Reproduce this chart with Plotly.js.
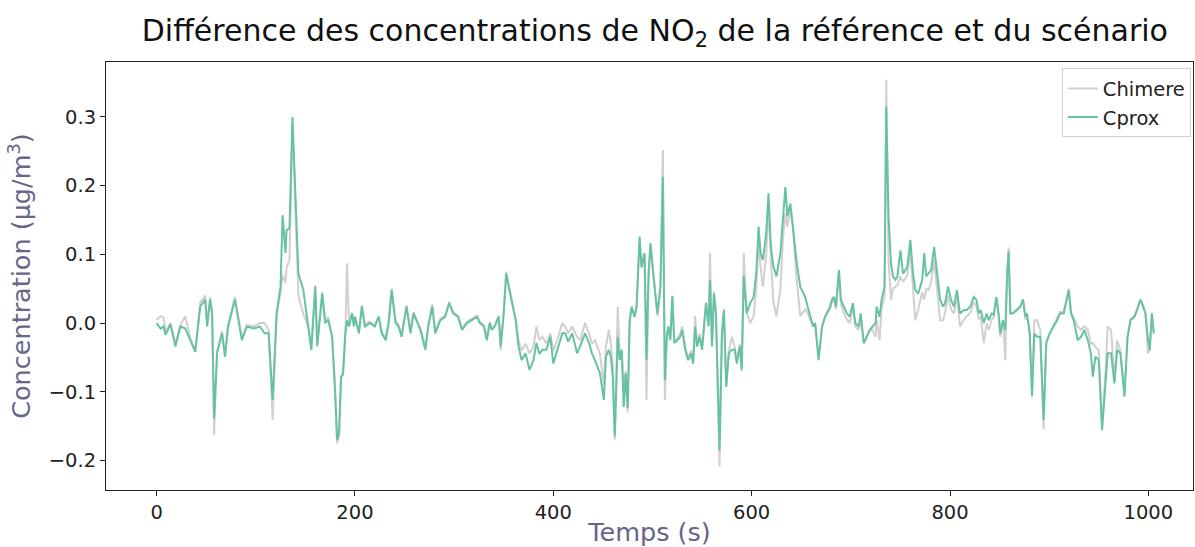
<!DOCTYPE html>
<html>
<head>
<meta charset="utf-8">
<script src="https://cdn.plot.ly/plotly-3.0.1.min.js"></script>
<style>html,body{margin:0;padding:0;background:#fff;}#chart{width:1195px;height:547px;}</style>
</head>
<body>
<div id="chart"></div>
<script>
// Temps (s)
const temps = [0,4,7,9,14,19,24,29,34,39,44,49,51,54,56,58,61,66,69,72,79,86,91,98,104,109,113,117,121,125,127,130,131,134,137,140,143,148,153,156,160,
162,167,170,173,177,180,182,184,186,188,190,192,194,197,199,200,204,207,210,215,220,224,227,231,234,237,241,244,247,252,256,259,262,266,271,274,278,281,286,291,295,299,304,308,313,318,323,326,330,333,336,
338,341,345,347,350,352.5,355,358,362,365,368,372,376,380,383,386,389,393,397,400,405,409,412,415,419,424,427,432,436,439,442,447,451,453,456,458,460,462,465,467,469,471,473,475,477,479,482,484,487,489,492,494,496,498,501,505,508,
510.5,512.5,514.5,516,518,520,522,525,528,530,533,536,539,541,543,545,547.5,550,551.5,554,556.5,558,560,562,564,565.6,567.6,570,572,574.4,577,580,583,585,588,590,592,595,598.6,602,604.6,607,609,611.4,614.7,617,619.4,622,625,629,631.5,634,636,639,641.6,645,649,654,656.4,659,662,664,667.5,671,674,679,
681,683,685,688,690,693,696,699,702,704.5,708,710,713,716,719,722,725,726,729,731,734,735.7,738,740.5,742.5,745,747,750,752.6,755,757,760,762.7,765,768,772,774,776,778.5,781,784,787,790,793,795,798,801,804,807,810,814,817,820.5,824,826.6,829,831,834,837,839,842,844,846.7,849,
850.7,853.4,855.8,857.5,859.1,860.8,863.5,867.5,871,873.6,876,877.6,880.3,882.7,885,887.7,891,894.4,897,900.5,904.5,908,911,914.6,917,919.7,922,924.7,928.8,932,935.5,939,942,944,946.6,950,953.3,956.7,959,962.4,965.8,968.5,971.8,975.9,979,982,986,988.6,992,994.7,997,999.4,1001.4,1003.5,1005.5];

// Cprox
const cprox = [0.0,-0.008,-0.005,-0.017,-0.002,-0.034,-0.005,-0.008,-0.025,-0.042,0.024,0.034,-0.005,0.034,0.014,-0.139,-0.044,-0.015,-0.049,-0.005,0.034,-0.025,-0.005,-0.008,-0.005,-0.015,-0.015,-0.112,0.014,0.053,0.157,0.102,0.135,0.138,0.300,0.189,0.072,0.048,-0.005,-0.039,0.053,
-0.034,0.043,0.0,0.005,-0.020,-0.102,-0.170,-0.160,-0.078,-0.075,-0.020,0.004,-0.005,0.014,-0.005,0.009,-0.015,0.024,-0.005,0.0,-0.005,0.009,-0.015,-0.025,0.0,0.048,0.0,-0.005,-0.020,0.024,-0.015,0.014,0.004,-0.010,-0.039,-0.005,0.024,-0.015,0.004,0.009,0.029,0.014,0.009,-0.010,0.0,0.004,0.009,0.0,-0.005,-0.025,0.0,
-0.010,-0.005,0.009,-0.034,0.014,0.072,0.053,0.034,0.004,-0.034,-0.054,-0.044,-0.068,-0.054,-0.029,-0.045,-0.039,-0.039,-0.020,-0.059,-0.034,-0.015,-0.015,-0.027,-0.015,-0.044,-0.034,-0.015,-0.029,-0.044,-0.054,-0.073,-0.112,-0.049,-0.039,-0.049,-0.078,-0.165,-0.020,-0.054,-0.039,-0.122,-0.073,-0.124,0.004,0.024,0.009,0.024,0.126,0.082,0.102,-0.054,0.072,0.116,0.068,0.014,0.053,
0.213,-0.083,-0.020,-0.005,-0.025,0.039,-0.029,-0.025,-0.020,-0.010,-0.039,-0.054,-0.044,-0.059,-0.005,-0.034,-0.020,-0.039,-0.015,0.029,-0.005,0.063,-0.034,0.043,0.014,-0.068,-0.185,-0.015,0.019,-0.093,-0.044,-0.039,-0.039,-0.059,-0.034,-0.068,0.068,0.014,0.029,0.038,0.072,0.140,0.102,0.092,0.131,0.189,0.111,0.082,0.068,0.102,0.150,0.198,0.155,0.174,0.140,0.092,0.053,0.038,0.024,0.009,-0.005,0.0,-0.054,-0.005,0.009,0.024,
0.034,0.038,0.024,0.077,0.034,0.024,0.014,0.009,0.029,0.0,-0.005,0.014,-0.029,-0.020,-0.010,-0.005,0.0,0.024,0.009,0.034,0.053,0.315,0.155,0.087,0.068,0.063,0.068,0.106,0.072,0.077,0.082,0.121,0.072,0.048,0.043,0.063,0.102,0.068,0.072,0.077,0.111,0.068,0.034,0.024,0.029,0.053,0.034,0.024,0.048,0.014,0.019,0.019,0.024,0.038,0.034,0.014,0.019,0.0,0.014,0.004,0.014,0.012,0.038,0.014,
-0.015,0.004,-0.010,0.068,0.104,0.014,0.014,0.019,0.024,0.034,0.009,0.014,-0.015,-0.107,-0.015,-0.020,-0.020,-0.141,-0.029,-0.015,-0.005,0.004,0.014,0.014,0.029,0.048,0.014,0.004,-0.025,-0.020,-0.010,-0.025,-0.044,-0.078,-0.049,-0.054,-0.156,-0.083,-0.044,-0.044,-0.088,-0.039,-0.044,-0.107,-0.020,0.004,0.009,0.019,0.034,0.024,0.014,-0.020,-0.039,0.014,-0.015];

// Chimere
const chimere = [0.005,0.010,0.008,-0.012,0.0,-0.030,-0.003,0.010,-0.022,-0.040,0.030,0.040,0.0,0.038,0.015,-0.163,-0.040,-0.012,-0.049,-0.005,0.038,-0.022,-0.003,-0.005,0.0,0.0,-0.010,-0.141,0.010,0.045,0.070,0.058,0.080,0.092,0.290,0.170,0.040,0.013,-0.005,-0.035,0.055,
-0.030,0.045,0.005,0.009,-0.020,-0.090,-0.175,-0.165,-0.080,-0.070,-0.030,0.087,0.0,0.015,-0.003,0.010,-0.012,0.026,-0.002,0.002,-0.003,0.010,-0.013,-0.022,0.002,0.050,0.003,-0.002,-0.018,0.026,-0.012,0.016,0.006,-0.008,-0.035,-0.002,0.027,-0.012,0.006,0.011,0.031,0.016,0.011,-0.008,0.002,0.006,0.011,0.002,-0.003,-0.020,0.002,
-0.008,-0.003,0.011,-0.039,0.016,0.075,0.056,0.036,0.008,-0.025,-0.040,-0.030,-0.044,-0.035,-0.005,-0.025,-0.020,-0.030,-0.015,-0.040,-0.020,0.0,-0.005,-0.015,-0.005,-0.020,-0.025,0.0,-0.015,-0.030,-0.025,-0.045,-0.090,-0.035,-0.010,-0.030,-0.060,-0.170,0.024,-0.045,-0.040,-0.100,-0.070,-0.130,0.0,0.020,0.010,0.025,0.120,0.080,0.100,-0.112,0.060,0.116,0.068,0.010,0.050,
0.252,-0.112,-0.020,-0.005,-0.022,0.040,-0.027,-0.022,-0.015,-0.005,-0.035,-0.050,-0.040,-0.055,0.010,-0.030,-0.015,-0.035,-0.010,0.030,0.0,0.102,-0.030,0.045,0.015,-0.070,-0.209,-0.020,0.020,-0.090,-0.040,-0.020,-0.035,-0.055,-0.030,-0.070,0.102,0.015,0.0,0.010,0.050,0.120,0.080,0.053,0.100,0.170,0.090,0.030,0.010,0.050,0.120,0.160,0.140,0.165,0.140,0.070,0.010,0.020,0.015,0.005,-0.005,0.0,-0.050,-0.005,0.009,0.020,
0.030,0.035,0.020,0.072,0.028,0.014,0.005,0.0,0.024,-0.005,-0.010,0.010,-0.030,-0.020,-0.012,-0.010,-0.020,0.005,-0.025,0.020,0.040,0.354,0.092,0.034,0.050,0.053,0.055,0.068,0.060,0.065,0.070,0.106,0.050,0.004,0.020,0.045,0.034,0.050,0.048,0.060,0.092,0.050,0.004,0.004,0.015,0.040,0.020,0.014,0.040,-0.005,0.005,0.010,0.015,0.030,0.025,0.005,0.010,-0.029,0.0,-0.010,0.005,0.008,0.035,0.010,
-0.020,0.005,-0.054,0.070,0.110,0.015,0.015,0.020,0.025,0.035,0.005,0.010,-0.010,-0.100,0.004,0.004,-0.010,-0.155,-0.030,-0.015,-0.003,0.006,0.016,0.016,0.030,0.050,0.016,0.008,-0.005,-0.010,-0.005,-0.010,-0.030,-0.029,-0.035,-0.040,-0.150,-0.070,-0.005,-0.010,-0.083,-0.025,-0.040,-0.100,-0.020,0.006,0.011,0.020,0.035,0.026,0.016,-0.044,-0.040,0.015,-0.015];

const font = 'DejaVu Sans, sans-serif';
const data = [
  {x: temps, y: chimere, type: 'scatter', mode: 'lines', name: 'Chimere',
   line: {color: '#d4cfcf', width: 2}},
  {x: temps, y: cprox, type: 'scatter', mode: 'lines', name: 'Cprox',
   line: {color: '#66c2a5', width: 2}}
];
const layout = {
  width: 1195, height: 547,
  margin: {l: 106, r: 2, t: 62, b: 57},
  paper_bgcolor: '#fff', plot_bgcolor: '#fff',
  font: {family: font, color: '#222', size: 19.5},
  title: {text: 'Différence des concentrations de NO<sub>2</sub> de la référence et du scénario',
          font: {family: font, size: 30, color: '#111'}, x: 0.548, xanchor: 'center', y: 0.945, yanchor: 'middle'},
  showlegend: true,
  legend: {x: 0.998, xanchor: 'right', y: 0.985, yanchor: 'top', bgcolor: 'rgba(255,255,255,0.8)',
           bordercolor: '#d0d0d0', borderwidth: 1, font: {family: font, size: 19.5, color: '#222'}},
  xaxis: {range: [-51, 1045], showgrid: false, zeroline: false, showline: true, mirror: true,
          linecolor: '#222', linewidth: 1, ticks: 'outside', ticklen: 5, tickcolor: '#222',
          tickvals: [0,200,400,600,800,1000], tickfont: {family: font, size: 19.5, color: '#222'},
          title: {text: 'Temps (s)', font: {family: font, size: 25.5, color: '#66668a'}, standoff: 4}},
  yaxis: {range: [-0.243, 0.380], showgrid: false, zeroline: false, showline: true, mirror: true,
          linecolor: '#222', linewidth: 1, ticks: 'outside', ticklen: 5, tickcolor: '#222',
          tickvals: [-0.2,-0.1,0,0.1,0.2,0.3], ticktext: ['\u22120.2','\u22120.1','0.0','0.1','0.2','0.3'],
          tickfont: {family: font, size: 19.5, color: '#222'},
          title: {text: 'Concentration (µg/m<sup>3</sup>)', font: {family: font, size: 25.5, color: '#66668a'}, standoff: 10}}
};
Plotly.newPlot('chart', data, layout, {displayModeBar: false, staticPlot: true});
</script>
</body>
</html>
